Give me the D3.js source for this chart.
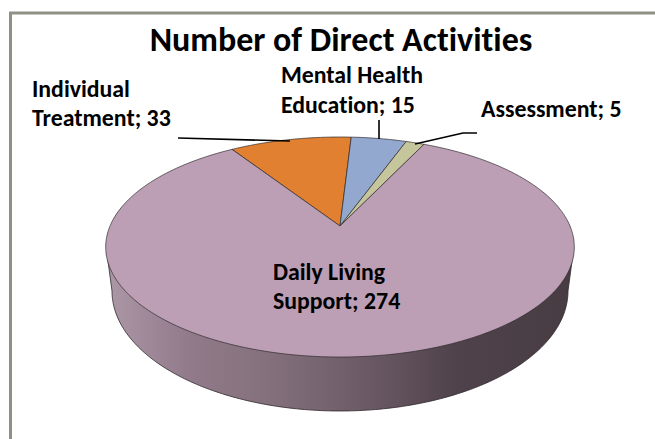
<!DOCTYPE html>
<html><head><meta charset="utf-8">
<script src="https://cdn.jsdelivr.net/npm/d3@7/dist/d3.min.js"></script>
<style>html,body{margin:0;padding:0;background:#fff}svg{display:block}text{font-variant-ligatures:none;font-feature-settings:"liga" 0,"clig" 0}</style>
</head><body><svg id="c" width="655" height="439"></svg>
<script>
const title = "Number of Direct Activities";
const categories = ["Individual Treatment","Mental Health Education","Assessment","Daily Living Support"];
const values = [33,15,5,274];
const colors = ["#e08030","#93a8cf","#c6c69c","#bc9fb4"];
const labelLines = [["Individual","Treatment; 33"],["Mental Health","Education; 15"],["Assessment; 5"],["Daily Living","Support; 274"]];

const svg = d3.select("#c");
svg.append("path").attr("d","M10.5 439V13H655").attr("fill","none").attr("stroke","#8f9186").attr("stroke-width",3);

const cx=340, cy=226, b=230, a=106, k=0.191;
const proj = t => { const s=Math.sin(t), c=Math.cos(t), d=1+k*c; return [cx+b*s/d, cy-a*c/d]; };
const rimC=[340,291], rimR=[228,120];
const rim = t => [rimC[0]+rimR[0]*Math.cos(t), rimC[1]+rimR[1]*Math.sin(t)];

const g=svg.append("defs").append("linearGradient").attr("id","wall").attr("x1","0").attr("x2","1").attr("y1","0").attr("y2","0");
[[0,"#ad98a8"],[0.18,"#917a89"],[0.35,"#84707d"],[0.55,"#6c5b67"],[0.75,"#4f424a"],[1,"#483c43"]]
 .forEach(s=>g.append("stop").attr("offset",s[0]).attr("stop-color",s[1]));

const line=d3.line();
const steps=d3.range(180,-1,-1);
const angleScale=d3.scaleLinear().domain([0,180]).range([0,Math.PI]);
svg.append("path")
 .attr("d",line([[106.5,250]].concat(steps.map(i=>rim(angleScale(i)))).concat([[573.5,250]]))+"Z")
 .attr("fill","url(#wall)").attr("stroke","#2e272c").attr("stroke-width",0.8);

const pie=d3.pie().sort(null).startAngle(-33*Math.PI/180).endAngle((360-33)*Math.PI/180);
const sector=d=>{
  const n=Math.max(8,Math.ceil((d.endAngle-d.startAngle)/0.01));
  const sc=d3.scaleLinear().domain([0,n]).range([d.startAngle,d.endAngle]);
  return line([[cx,cy]].concat(d3.range(n+1).map(i=>proj(sc(i)))))+"Z";
};
svg.selectAll("path.slice").data(pie(values)).join("path").attr("class","slice")
 .attr("d",sector).attr("fill",(d,i)=>colors[i]).attr("stroke","#2e2a2c").attr("stroke-width",0.7).attr("stroke-linejoin","round");

const leaders=[[[178,138],[290,141]],[[379,120],[379,139]],[[477,133],[463,133],[415,144]]];
svg.selectAll("path.leader").data(leaders).join("path").attr("class","leader")
 .attr("d",d=>line(d)).attr("fill","none").attr("stroke","#000").attr("stroke-width",1.6);

const font="Carlito,'Open Sans','Noto Sans',sans-serif";
svg.append("text").text(title).attr("x",341).attr("y",51).attr("text-anchor","middle")
 .attr("font-family",font).attr("font-weight",700).attr("font-size",34).attr("fill","#000");
const pos=[[32,97],[281,83],[481,117],[273,280]];
const gaps=[29,30,0,29];
labelLines.forEach((ls,i)=>ls.forEach((t,j)=>{
  svg.append("text").text(t).attr("x",pos[i][0]).attr("y",pos[i][1]+j*gaps[i])
   .attr("font-family",font).attr("font-weight",700).attr("font-size",23.8).attr("fill","#000");
}));
</script></body></html>
